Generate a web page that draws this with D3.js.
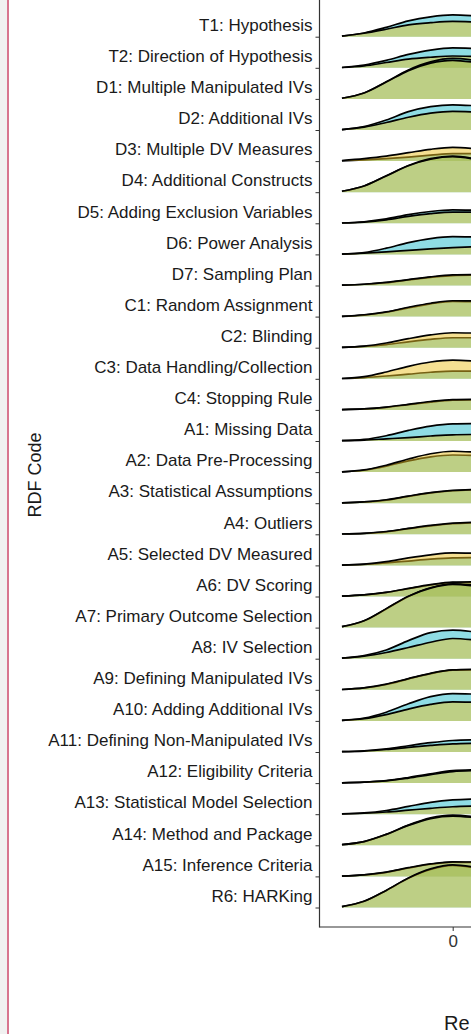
<!DOCTYPE html>
<html>
<head>
<meta charset="utf-8">
<script src="https://cdnjs.cloudflare.com/ajax/libs/d3/7.8.5/d3.min.js"></script>
<style>
body{margin:0;background:#fff;overflow:hidden}
svg{display:block;font-family:"Liberation Sans",Arial,sans-serif}
</style>
</head>
<body>
<svg id="chart" width="471" height="1034"></svg>
<script>

// RDF codes, top to bottom
var rdf_codes = ["T1: Hypothesis","T2: Direction of Hypothesis","D1: Multiple Manipulated IVs",
	"D2: Additional IVs","D3: Multiple DV Measures","D4: Additional Constructs",
	"D5: Adding Exclusion Variables","D6: Power Analysis","D7: Sampling Plan",
	"C1: Random Assignment","C2: Blinding","C3: Data Handling/Collection","C4: Stopping Rule",
	"A1: Missing Data","A2: Data Pre-Processing","A3: Statistical Assumptions","A4: Outliers",
	"A5: Selected DV Measured","A6: DV Scoring","A7: Primary Outcome Selection","A8: IV Selection",
	"A9: Defining Manipulated IVs","A10: Adding Additional IVs","A11: Defining Non-Manipulated IVs",
	"A12: Eligibility Criteria","A13: Statistical Model Selection","A14: Method and Package",
	"A15: Inference Criteria","R6: HARKing"];

// x positions where the ridge heights were read
var x_grid = [-1, -0.8, -0.6, -0.4, -0.2, 0, 0.2];

// ridge heights (in row units), group 1 (blue)
var blue_dens = [
	[.02,.12,.30,.51,.64,.70,.67],
	[.01,.09,.24,.43,.57,.64,.62],
	[.02,.19,.55,.93,1.19,1.30,1.24],
	[.01,.11,.32,.59,.75,.81,.78],
	[.01,.04,.08,.13,.19,.24,.24],
	[.03,.20,.53,.86,1.08,1.16,1.08],
	[.01,.05,.14,.28,.38,.43,.42],
	[.01,.06,.20,.38,.51,.57,.56],
	[.01,.04,.09,.18,.26,.32,.33],
	[.01,.05,.14,.28,.41,.49,.48],
	[.01,.04,.10,.19,.27,.32,.32],
	[.01,.04,.09,.15,.21,.25,.25],
	[.01,.03,.08,.17,.25,.31,.32],
	[.01,.05,.17,.34,.48,.55,.56],
	[.01,.06,.19,.36,.49,.55,.53],
	[.01,.04,.10,.22,.33,.40,.43],
	[.01,.03,.08,.18,.27,.34,.37],
	[.01,.03,.08,.14,.20,.24,.25],
	[.01,.05,.13,.25,.37,.45,.44],
	[.03,.22,.60,1.00,1.28,1.41,1.36],
	[.02,.10,.28,.58,.84,.92,.86],
	[.01,.06,.17,.35,.52,.63,.64],
	[.02,.09,.28,.55,.78,.88,.86],
	[.01,.04,.10,.20,.30,.37,.39],
	[.01,.03,.08,.18,.30,.40,.43],
	[.01,.04,.12,.25,.38,.46,.49],
	[.02,.12,.35,.65,.88,.97,.92],
	[.01,.05,.13,.27,.39,.46,.45],
	[.03,.20,.55,.94,1.22,1.35,1.28]
];

// ridge heights (in row units), group 2 (yellow)
var yellow_dens = [
	[.02,.11,.24,.38,.45,.49,.47],
	[.01,.06,.17,.28,.34,.38,.36],
	[.02,.19,.54,.91,1.15,1.24,1.17],
	[.01,.09,.24,.41,.54,.60,.58],
	[.02,.08,.16,.27,.38,.44,.40],
	[.03,.20,.52,.85,1.06,1.14,1.06],
	[.01,.04,.11,.22,.31,.36,.36],
	[.01,.04,.08,.13,.18,.22,.25],
	[.01,.04,.10,.19,.28,.34,.35],
	[.01,.06,.15,.30,.43,.51,.50],
	[.01,.05,.15,.29,.41,.48,.47],
	[.01,.07,.22,.40,.54,.60,.57],
	[.01,.03,.09,.18,.27,.33,.34],
	[.01,.03,.07,.11,.16,.20,.21],
	[.01,.07,.22,.42,.59,.67,.64],
	[.01,.04,.11,.23,.34,.41,.44],
	[.01,.03,.09,.19,.29,.36,.39],
	[.01,.04,.12,.24,.34,.40,.39],
	[.01,.05,.13,.26,.38,.46,.47],
	[.03,.22,.61,1.01,1.27,1.39,1.33],
	[.02,.08,.20,.36,.53,.65,.60],
	[.01,.06,.18,.36,.53,.64,.66],
	[.02,.07,.20,.38,.53,.61,.60],
	[.01,.03,.08,.15,.21,.26,.28],
	[.01,.03,.07,.16,.27,.37,.40],
	[.01,.03,.07,.13,.19,.24,.26],
	[.02,.12,.35,.64,.86,.94,.89],
	[.01,.05,.14,.28,.40,.47,.46],
	[.03,.20,.55,.95,1.24,1.37,1.30]
];

var x_ticks = [0];
var x_title = "Re";   // only the start of the title is inside the frame
var y_title = "RDF Code";

var svg = d3.select("#chart");

// left page strip (cropped figure edge)
svg.append("rect").attr("x",0).attr("y",0).attr("width",7).attr("height",1034).attr("fill","#f1f1f1");
svg.append("rect").attr("x",7).attr("y",0).attr("width",2).attr("height",1034).attr("fill","#d8758f");

var panel_left = 319.5,
	panel_bottom = 927;

var x = d3.scaleLinear().domain([-1.2, 0]).range([319.8, 452.7]);
var y = d3.scalePoint().domain(rdf_codes).range([36.7, 907.5]);
var h = d3.scaleLinear().domain([0, 1]).range([0, y.step()]);

var g = svg.append("g");

function ridge(code, dens, color)
{
	var base = y(code);
	var area = d3.area()
		.x(function(d,j){return x(x_grid[j])})
		.y0(base)
		.y1(function(d){return base - h(d)})
		.curve(d3.curveMonotoneX);
	var line = d3.line()
		.x(function(d,j){return x(x_grid[j])})
		.y(function(d){return base - h(d)})
		.curve(d3.curveMonotoneX);

	g.append("path").attr("d",area(dens)).attr("fill",color).attr("fill-opacity",0.5);
	g.append("path").attr("d",line(dens)).attr("fill","none")
		.attr("stroke","#000").attr("stroke-width",1.7);
}

// top rows first so lower rows overlap them
rdf_codes.forEach(function(code,i)
{
	ridge(code, blue_dens[i], "#1fb9c9");
	ridge(code, yellow_dens[i], "#ebc125");
});

// axes
var yAxis = svg.append("g")
	.attr("transform","translate("+panel_left+",0)")
	.call(d3.axisLeft(y).tickSize(4).tickSizeOuter(0));
yAxis.select(".domain").remove();
yAxis.selectAll("line").attr("stroke","#333");
yAxis.selectAll("text")
	.attr("y",-11.7)
	.attr("fill","#1a1a1a")
	.style("font-size","17px")
	.style("font-family","Liberation Sans, Arial, sans-serif");

var xAxis = svg.append("g")
	.attr("transform","translate(0,"+panel_bottom+")")
	.call(d3.axisBottom(x).tickValues(x_ticks).tickSize(4).tickSizeOuter(0).tickFormat(d3.format("d")));
xAxis.select(".domain").remove();
xAxis.selectAll("line").attr("stroke","#333");
xAxis.selectAll("text")
	.attr("y",8)
	.attr("fill","#333")
	.style("font-size","17px")
	.style("font-family","Liberation Sans, Arial, sans-serif");

svg.append("line").attr("x1",panel_left).attr("x2",panel_left).attr("y1",0).attr("y2",panel_bottom+0.5)
	.attr("stroke","#333").attr("stroke-width",1.2);
svg.append("line").attr("x1",panel_left).attr("x2",471).attr("y1",panel_bottom).attr("y2",panel_bottom)
	.attr("stroke","#333").attr("stroke-width",1.2);

// axis titles
svg.append("text")
	.attr("transform","translate(41,475) rotate(-90)")
	.attr("text-anchor","middle")
	.style("font-size","18px")
	.attr("fill","#1a1a1a")
	.text(y_title);

svg.append("text")
	.attr("x",444).attr("y",1030)
	.style("font-size","20px")
	.attr("fill","#1a1a1a")
	.text(x_title);

</script>
</body>
</html>
